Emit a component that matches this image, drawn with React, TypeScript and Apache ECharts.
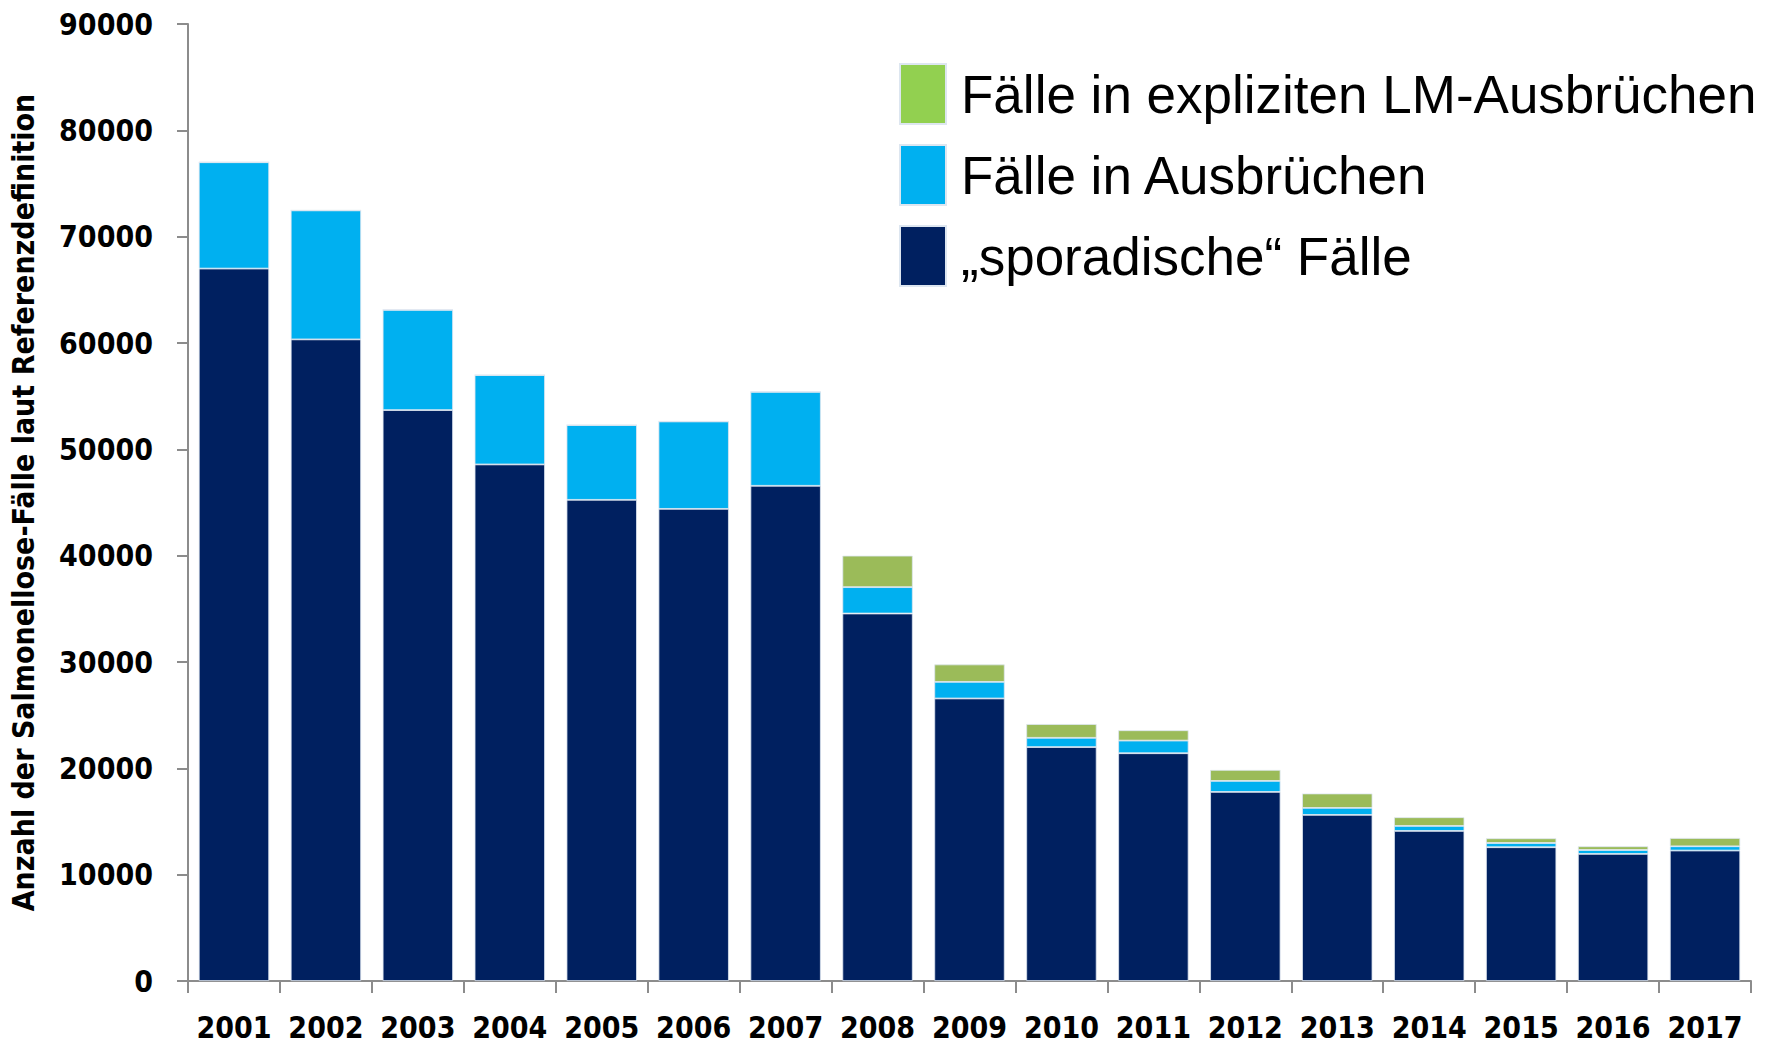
import React, { useEffect, useRef } from "react";
import * as echarts from "echarts";

const years = ["2001","2002","2003","2004","2005","2006","2007","2008","2009","2010","2011","2012","2013","2014","2015","2016","2017"];
const sporadic = [67000, 60340, 53690, 48580, 45250, 44400, 46570, 34560, 26570, 22000, 21420, 17780, 15620, 14110, 12580, 11950, 12270];
const outbreaks = [10000, 12130, 9430, 8400, 7030, 8220, 8840, 2480, 1560, 870, 1190, 1035, 660, 470, 400, 370, 400];
const lmOutbreaks = [0, 0, 0, 0, 0, 0, 0, 2960, 1640, 1290, 970, 1035, 1355, 820, 440, 350, 780];

const seriesNames = ["Fälle in expliziten LM-Ausbrüchen", "Fälle in Ausbrüchen", "„sporadische“ Fälle"];
const yAxisTitle = "Anzahl der Salmonellose-Fälle laut Referenzdefinition";

const boldFont = "'DejaVu Sans Condensed', 'Liberation Sans Narrow', 'DejaVu Sans', sans-serif";

export default function App() {
  const ref = useRef<HTMLDivElement>(null);
  useEffect(() => {
    if (!ref.current) return;
    const chart = echarts.init(ref.current, undefined, { renderer: "svg" });
    const barBorder = { borderColor: "#dde6f0", borderWidth: 0.8 };
    chart.setOption({
      animation: false,
      backgroundColor: "#ffffff",
      grid: { left: 185, right: 30, top: 24, bottom: 62, containLabel: false },
      legend: {
        orient: "vertical",
        left: 894,
        top: 58,
        itemWidth: 46,
        itemHeight: 60,
        itemGap: 19,
        icon: "rect",
        selectedMode: false,
        textStyle: {
          fontFamily: "'Liberation Sans', Arial, sans-serif",
          fontSize: 53,
          color: "#000000",
          padding: [0, 0, 0, 10],
        },
        data: [
          { name: seriesNames[0], itemStyle: { color: "#92D050" } },
          { name: seriesNames[1], itemStyle: { color: "#00B0F0" } },
          { name: seriesNames[2], itemStyle: { color: "#002060" } },
        ],
      },
      xAxis: {
        type: "category",
        data: years,
        axisLine: { lineStyle: { color: "#8c8c8c", width: 2 } },
        axisTick: { show: true, length: 12, lineStyle: { color: "#8c8c8c", width: 2 } },
        axisLabel: {
          interval: 0,
          margin: 31,
          fontFamily: boldFont,
          fontWeight: "bold",
          fontSize: 30,
          color: "#000000",
        },
      },
      yAxis: {
        type: "value",
        min: 0,
        max: 90000,
        interval: 10000,
        name: yAxisTitle,
        nameLocation: "middle",
        nameRotate: 90,
        nameGap: 150,
        nameTextStyle: {
          fontFamily: boldFont,
          fontWeight: "bold",
          fontSize: 30,
          color: "#000000",
        },
        splitLine: { show: false },
        axisLine: { show: true, lineStyle: { color: "#8c8c8c", width: 2 } },
        axisTick: { show: true, length: 11, lineStyle: { color: "#8c8c8c", width: 2 } },
        axisLabel: {
          margin: 35,
          formatter: (v: number) => String(v),
          fontFamily: boldFont,
          fontWeight: "bold",
          fontSize: 30,
          color: "#000000",
        },
      },
      series: [
        {
          name: seriesNames[2],
          type: "bar",
          stack: "total",
          data: sporadic,
          barCategoryGap: "23.5%",
          itemStyle: { color: "#002060", ...barBorder },
        },
        {
          name: seriesNames[1],
          type: "bar",
          stack: "total",
          data: outbreaks,
          itemStyle: { color: "#00B0F0", ...barBorder },
        },
        {
          name: seriesNames[0],
          type: "bar",
          stack: "total",
          data: lmOutbreaks,
          itemStyle: { color: "#9BBB59", ...barBorder },
        },
      ],
    });
    return () => chart.dispose();
  }, []);
  return (
    <div
      ref={ref}
      style={{ position: "fixed", left: 0, top: 0, width: 1781, height: 1043 }}
    />
  );
}
